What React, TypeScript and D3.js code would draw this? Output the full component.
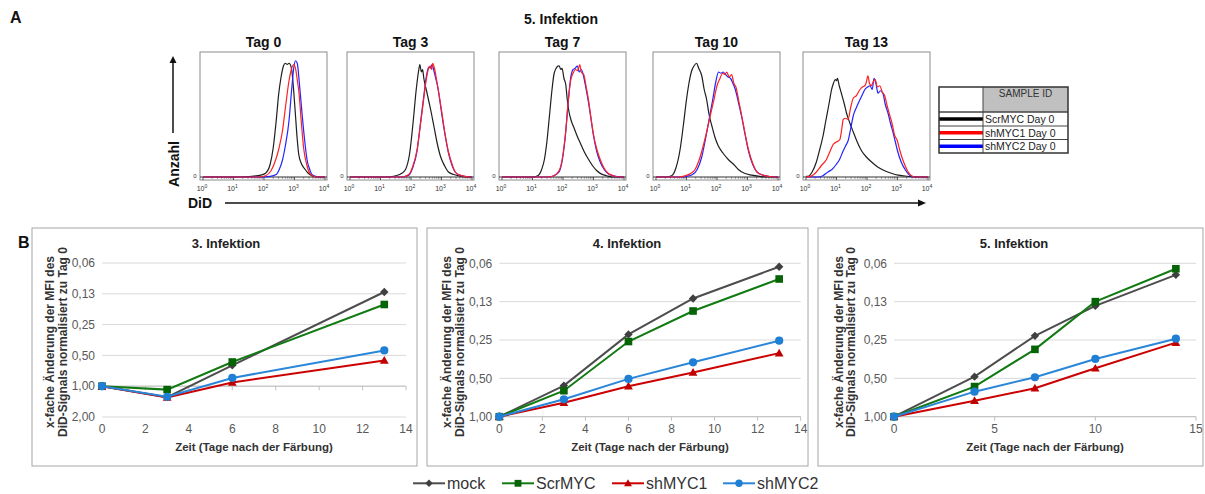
import React from "react";
import * as d3 from "d3";

type Pt = [number, number];

// ---------- Panel A: DiD histograms (x = log10 fluorescence, y = % of max count) ----------
const histDays = ["Tag 0", "Tag 3", "Tag 7", "Tag 10", "Tag 13"];
const histSampleLabels = ["ScrMYC Day 0", "shMYC1 Day 0", "shMYC2 Day 0"];
const decadeTicks = [0, 1, 2, 3, 4];

const histScrMYC: Pt[][] = [
  [[0,0],[1.2,0],[1.6,0.5],[1.9,1.5],[2.05,3],[2.2,10],[2.3,23],[2.4,45],[2.48,66],[2.56,80],[2.64,89],[2.7,91],[2.76,90],[2.82,91],[2.9,87],[2.97,70],[3.03,50],[3.09,30],[3.14,18],[3.22,11],[3.35,6],[3.45,3],[3.57,1],[3.7,0],[4,0]],
  [[0,0],[1.2,0],[1.5,1],[1.7,3],[1.82,6],[1.95,18],[2.09,49],[2.15,65],[2.2,76],[2.25,85],[2.29,90],[2.34,84],[2.38,86],[2.42,79],[2.5,70],[2.58,61],[2.66,52],[2.74,42],[2.85,28],[2.96,17],[3.1,9],[3.23,4],[3.4,2],[3.55,1],[3.8,0],[4,0]],
  [[0,0],[1.0,0],[1.17,1],[1.3,6],[1.39,14],[1.48,30],[1.56,50],[1.64,70],[1.71,83],[1.8,88],[1.87,89],[1.93,86],[1.97,87],[2.03,79],[2.09,74],[2.14,62],[2.19,53],[2.27,45],[2.35,40],[2.46,33],[2.57,27],[2.7,20],[2.84,14],[2.97,9],[3.11,5],[3.25,2.5],[3.43,1],[3.6,0],[4,0]],
  [[0,0],[0.3,0],[0.51,1],[0.65,7],[0.79,22],[0.9,42],[1.0,62],[1.08,75],[1.17,85],[1.25,89],[1.33,91],[1.4,87],[1.5,81],[1.58,70],[1.66,62],[1.74,50],[1.83,41],[1.93,32],[2.04,25],[2.2,19],[2.37,14],[2.55,10],[2.7,6],[2.9,3],[3.14,1.5],[3.4,0.5],[3.6,0],[4,0]],
  [[0,0.5],[0.07,0.5],[0.2,4],[0.34,12],[0.45,22],[0.56,33],[0.65,45],[0.72,54],[0.78,62],[0.83,69],[0.9,75],[0.96,78],[1.0,77],[1.03,79],[1.09,73],[1.16,67],[1.25,59],[1.33,51],[1.44,43],[1.55,36],[1.68,28],[1.82,21],[1.98,16],[2.15,12],[2.35,8],[2.58,5],[2.8,3],[3.02,1.5],[3.25,0.8],[3.46,0.3],[3.7,0],[4,0]],
];

const histShMYC1: Pt[][] = [
  [[0,0],[1.8,0],[2.05,1],[2.23,5],[2.4,15],[2.5,24],[2.6,36],[2.7,55],[2.82,77],[2.92,88],[2.98,90],[3.04,86],[3.1,76],[3.14,69],[3.22,45],[3.3,23],[3.4,10],[3.5,3],[3.6,1],[3.75,0],[4,0]],
  [[0,0],[1.7,0],[1.93,2],[2.05,8],[2.2,22],[2.3,40],[2.42,63],[2.5,78],[2.58,87],[2.64,89],[2.68,86],[2.71,91],[2.76,88],[2.85,76],[2.92,66],[3.01,52],[3.1,37],[3.23,20],[3.35,10],[3.45,4],[3.6,1.5],[3.77,0.5],[3.9,0],[4,0]],
  [[0,0],[1.5,0],[1.7,1],[1.87,5],[1.98,15],[2.09,37],[2.17,60],[2.25,77],[2.33,83],[2.41,86],[2.48,85],[2.55,90],[2.6,84],[2.68,82],[2.76,72],[2.84,61],[2.92,47],[3.0,34],[3.1,23],[3.22,14],[3.35,7],[3.48,3],[3.65,1],[3.86,0],[4,0]],
  [[0,0],[0.8,0],[0.95,1],[1.15,3],[1.28,6],[1.42,14],[1.56,26],[1.67,37],[1.78,49],[1.9,62],[2.0,73],[2.1,79],[2.18,83],[2.25,82],[2.32,84],[2.4,80],[2.48,82],[2.55,75],[2.62,72],[2.72,60],[2.81,49],[2.92,35],[3.03,22],[3.17,11],[3.31,4],[3.5,1.5],[3.69,0.5],[3.85,0],[4,0]],
  [[0,0],[0.15,0.5],[0.34,4],[0.5,9],[0.67,14],[0.78,20],[0.89,26],[1.0,28],[1.11,30],[1.17,38],[1.22,46],[1.3,47],[1.38,46],[1.46,55],[1.55,63],[1.65,65],[1.77,70],[1.85,72],[1.93,73],[1.98,76],[2.03,81],[2.08,75],[2.14,73],[2.2,76],[2.27,78],[2.34,72],[2.42,73],[2.5,68],[2.58,65],[2.66,57],[2.75,49],[2.83,42],[2.91,33],[2.98,30],[3.08,21],[3.17,14],[3.25,9],[3.35,4],[3.46,1],[3.6,0],[4,0]],
];

const histShMYC2: Pt[][] = [
  [[0,0],[1.9,0],[2.2,0.5],[2.4,2],[2.5,6],[2.6,13],[2.7,25],[2.82,45],[2.9,68],[2.98,88],[3.03,93],[3.09,91],[3.16,75],[3.25,50],[3.33,30],[3.41,14],[3.5,6],[3.57,2],[3.7,0.5],[3.85,0],[4,0]],
  [[0,0],[1.7,0],[1.93,1.5],[2.05,7],[2.2,21],[2.3,41],[2.42,65],[2.5,80],[2.58,88],[2.64,87],[2.69,90],[2.74,86],[2.8,80],[2.87,73],[2.94,62],[3.01,50],[3.1,36],[3.23,19],[3.35,9],[3.45,4],[3.6,1.5],[3.77,0.5],[3.9,0],[4,0]],
  [[0,0],[1.5,0],[1.7,1],[1.87,4],[1.98,14],[2.09,36],[2.17,60],[2.25,79],[2.33,86],[2.4,87],[2.47,89],[2.53,84],[2.6,86],[2.68,80],[2.76,70],[2.84,59],[2.92,46],[3.0,33],[3.1,21],[3.22,12],[3.35,6],[3.48,2.5],[3.65,1],[3.86,0],[4,0]],
  [[0,0],[0.8,0],[1.0,0.5],[1.2,2],[1.35,6],[1.5,16],[1.62,30],[1.74,46],[1.86,62],[1.96,76],[2.05,84],[2.13,83],[2.2,84],[2.28,82],[2.36,80],[2.44,79],[2.52,75],[2.6,70],[2.7,60],[2.81,48],[2.92,34],[3.03,21],[3.17,10],[3.31,4],[3.5,1.5],[3.69,0.5],[3.85,0],[4,0]],
  [[0,0],[0.4,0],[0.55,1],[0.72,4],[0.85,6],[0.99,10],[1.1,14],[1.22,21],[1.3,25],[1.38,29],[1.46,38],[1.55,49],[1.66,56],[1.77,62],[1.85,66],[1.93,70],[2.02,72],[2.1,73],[2.17,70],[2.23,79],[2.3,74],[2.36,67],[2.44,69],[2.52,67],[2.6,58],[2.69,51],[2.77,43],[2.85,36],[2.93,28],[3.0,21],[3.12,12],[3.25,6],[3.35,2.5],[3.46,0.5],[3.6,0],[4,0]],
];

// ---------- Panel B: fold change of DiD MFI, normalised to day 0 ----------
const seriesNames = ["mock", "ScrMYC", "shMYC1", "shMYC2"];
const infTitles = ["3. Infektion", "4. Infektion", "5. Infektion"];

const daysInf3 = [0, 3, 6, 13];
const mockInf3 = [1, 1.28, 0.625, 0.12];
const scrInf3 = [1, 1.08, 0.58, 0.159];
const sh1Inf3 = [1, 1.29, 0.92, 0.56];
const sh2Inf3 = [1, 1.27, 0.83, 0.447];

const daysInf4 = [0, 3, 6, 9, 13];
const mockInf4 = [1, 0.57, 0.226, 0.118, 0.0665];
const scrInf4 = [1, 0.625, 0.257, 0.148, 0.083];
const sh1Inf4 = [1, 0.776, 0.577, 0.45, 0.317];
const sh2Inf4 = [1, 0.73, 0.505, 0.374, 0.253];

const daysInf5 = [0, 4, 7, 10, 14];
const mockInf5 = [1, 0.485, 0.232, 0.135, 0.077];
const scrInf5 = [1, 0.58, 0.296, 0.125, 0.069];
const sh1Inf5 = [1, 0.749, 0.598, 0.417, 0.262];
const sh2Inf5 = [1, 0.636, 0.49, 0.352, 0.244];

const yTicksInf3 = [0.0625, 0.125, 0.25, 0.5, 1, 2];
const yTicksInf45 = [0.0625, 0.125, 0.25, 0.5, 1];
const xTicks14 = [0, 2, 4, 6, 8, 10, 12, 14];
const xTicks15 = [0, 5, 10, 15];

const FONT = "'Liberation Sans', Arial, Helvetica, sans-serif";
const fmtDe = d3.formatLocale({ decimal: ",", thousands: ".", grouping: [3], currency: ["", "€"] }).format(".2f");

const seriesStyle = [
  { line: "#4d4d4d", fill: "#404040", shape: "diamond" },
  { line: "#117a11", fill: "#066306", shape: "square" },
  { line: "#cc0000", fill: "#c00000", shape: "triangle" },
  { line: "#2a86d8", fill: "#1f7fd4", shape: "circle" },
];

function Marker({ shape, x, y, color, s = 1 }: { shape: string; x: number; y: number; color: string; s?: number }) {
  if (shape === "diamond") {
    const r = 4.2 * s;
    return <path d={`M${x},${y - r}L${x + r},${y}L${x},${y + r}L${x - r},${y}Z`} fill={color} />;
  }
  if (shape === "square") {
    const r = 3.8 * s;
    return <rect x={x - r} y={y - r} width={2 * r} height={2 * r} fill={color} />;
  }
  if (shape === "triangle") {
    const r = 4.4 * s;
    return <path d={`M${x},${y - r}L${x + r},${y + r * 0.75}L${x - r},${y + r * 0.75}Z`} fill={color} />;
  }
  return <circle cx={x} cy={y} r={4.1 * s} fill={color} />;
}

function Histogram({ left, day, idx }: { left: number; day: string; idx: number }) {
  const width = 127;
  const top = 52;
  const bottom = 180;
  const base = 177;
  const xs = d3.scaleLinear().domain([0, 4]).range([left + 3, left + width - 2]);
  const ys = d3.scaleLinear().domain([0, 100]).range([base, top]);
  const line = d3.line<Pt>().x((d) => xs(d[0])).y((d) => ys(d[1])).curve(d3.curveMonotoneX);
  const minor: number[] = [];
  for (let k = 0; k < 4; k++) for (let m = 2; m <= 9; m++) minor.push(k + Math.log10(m));
  return (
    <g>
      <text x={left + width / 2} y={47} textAnchor="middle" fontSize={14} fontWeight="bold" fill="#111">{day}</text>
      <rect x={left} y={top} width={width} height={bottom - top} fill="#fff" stroke="#8c8c8c" strokeWidth={1} />
      <line x1={left} x2={left + width} y1={base} y2={base} stroke="#333" strokeWidth={1.1} />
      {minor.map((m, i) => (
        <line key={i} x1={xs(m)} x2={xs(m)} y1={base} y2={base + 1.8} stroke="#444" strokeWidth={0.6} />
      ))}
      {decadeTicks.map((t) => (
        <line key={"M" + t} x1={xs(t)} x2={xs(t)} y1={base} y2={base + 3} stroke="#333" strokeWidth={0.8} />
      ))}
      {decadeTicks.map((t) => (
        <text key={"L" + t} x={xs(t) - 1} y={191} textAnchor="middle" fontSize={7} fill="#333">
          10<tspan dy={-3} fontSize={5}>{t}</tspan>
        </text>
      ))}
      <text x={left - 5} y={base + 1} textAnchor="middle" fontSize={6} fill="#333">0</text>
      <path d={line(histScrMYC[idx]) || ""} fill="none" stroke="#1e1e1e" strokeWidth={1.2} />
      <path d={line(histShMYC2[idx]) || ""} fill="none" stroke="#2323ff" strokeWidth={1.2} />
      <path d={line(histShMYC1[idx]) || ""} fill="none" stroke="#ff2020" strokeWidth={1.2} />
    </g>
  );
}

function SampleLegend() {
  const x0 = 939, x1 = 983, x2 = 1068;
  const y0 = 87, yh = 112;
  const rowEdges = [112, 126, 139.5, 153];
  const colors = ["#000", "#ff0000", "#0000ff"];
  return (
    <g>
      <rect x={x0} y={y0} width={x2 - x0} height={rowEdges[3] - y0} fill="#fff" />
      <rect x={x1} y={y0} width={x2 - x1} height={yh - y0} fill="#c0c0c0" />
      <text x={(x1 + x2) / 2} y={97} textAnchor="middle" fontSize={10} fill="#333">SAMPLE ID</text>
      {histSampleLabels.map((lab, i) => {
        const cy = (rowEdges[i] + rowEdges[i + 1]) / 2;
        return (
          <g key={lab}>
            <line x1={x0} x2={x1} y1={cy} y2={cy} stroke={colors[i]} strokeWidth={3.5} />
            <text x={x1 + 2} y={cy + 3.8} fontSize={10.5} fill="#222">{lab}</text>
          </g>
        );
      })}
      {rowEdges.slice(0, 3).map((y, i) => (
        <line key={i} x1={x0} x2={x2} y1={y} y2={y} stroke="#444" strokeWidth={i === 0 ? 1.6 : 1} />
      ))}
      <line x1={x1} x2={x1} y1={y0} y2={rowEdges[3]} stroke="#444" strokeWidth={1} />
      <rect x={x0} y={y0} width={x2 - x0} height={rowEdges[3] - y0} fill="none" stroke="#333" strokeWidth={1.5} />
    </g>
  );
}

type Frame = { box: number[]; plot: number[]; titleX: number; yTitleX: number };

const frames: Frame[] = [
  { box: [32, 228, 417, 466], plot: [102, 263, 406, 417], titleX: 226, yTitleX: 50 },
  { box: [427, 228, 808, 466], plot: [499.3, 263.3, 800.7, 416.7], titleX: 627, yTitleX: 447 },
  { box: [818, 228, 1203, 466], plot: [894, 263.3, 1196, 416.7], titleX: 1014, yTitleX: 838.5 },
];

const infData = [
  { days: daysInf3, values: [mockInf3, scrInf3, sh1Inf3, sh2Inf3], yTicks: yTicksInf3, xTicks: xTicks14 },
  { days: daysInf4, values: [mockInf4, scrInf4, sh1Inf4, sh2Inf4], yTicks: yTicksInf45, xTicks: xTicks14 },
  { days: daysInf5, values: [mockInf5, scrInf5, sh1Inf5, sh2Inf5], yTicks: yTicksInf45, xTicks: xTicks15 },
];

function FoldChart({ i }: { i: number }) {
  const f = frames[i];
  const d = infData[i];
  const [bx0, by0, bx1, by1] = f.box;
  const [px0, py0, px1, py1] = f.plot;
  const xs = d3.scaleLinear().domain(d3.extent(d.xTicks) as [number, number]).range([px0, px1]);
  const ys = d3.scaleLog().base(2).domain(d3.extent(d.yTicks) as [number, number]).range([py0, py1]);
  const line = d3.line<number>().x((_, k) => xs(d.days[k])).y((v) => ys(v));
  const axisY = ys(1);
  return (
    <g fontFamily={FONT}>
      <rect x={bx0} y={by0} width={bx1 - bx0} height={by1 - by0} fill="#fff" stroke="#a6a6a6" strokeWidth={1} />
      <text x={f.titleX} y={247.5} textAnchor="middle" fontSize={13} fontWeight="bold" fill="#222">{infTitles[i]}</text>
      {d.yTicks.map((t) => (
        <g key={t}>
          <line x1={px0} x2={px1} y1={ys(t)} y2={ys(t)} stroke="#d9d9d9" strokeWidth={1} />
          <text x={px0 - 7} y={ys(t)} dy="0.35em" textAnchor="end" fontSize={12} fill="#595959">{fmtDe(t)}</text>
        </g>
      ))}
      <line x1={px0} x2={px1} y1={axisY} y2={axisY} stroke="#bfbfbf" strokeWidth={1} />
      {d.xTicks.map((t) => (
        <g key={t}>
          <line x1={xs(t)} x2={xs(t)} y1={axisY} y2={axisY + 4} stroke="#bfbfbf" strokeWidth={1} />
          <text x={xs(t)} y={433} textAnchor="middle" fontSize={12} fill="#595959">{t}</text>
        </g>
      ))}
      <text x={(px0 + px1) / 2} y={451} textAnchor="middle" fontSize={11.5} fontWeight="bold" fill="#333">
        Zeit (Tage nach der Färbung)
      </text>
      <g transform={`translate(${f.yTitleX},342) rotate(-90)`}>
        <text x={0} y={0} dy="0.35em" textAnchor="middle" fontSize={12} fontWeight="bold" fill="#333">x-fache Änderung der MFI des</text>
        <text x={0} y={12.5} dy="0.35em" textAnchor="middle" fontSize={12} fontWeight="bold" fill="#333">DiD-Signals normalisiert zu Tag 0</text>
      </g>
      {d.values.map((vals, s) => (
        <g key={s}>
          <path d={line(vals) || ""} fill="none" stroke={seriesStyle[s].line} strokeWidth={2} />
          {vals.map((v, k) => (
            <Marker key={k} shape={seriesStyle[s].shape} x={xs(d.days[k])} y={ys(v)} color={seriesStyle[s].fill} />
          ))}
        </g>
      ))}
    </g>
  );
}

const legendX = [413, 502, 612, 723];

export default function App() {
  const histLefts = [200, 347, 499, 653, 803];
  return (
    <svg width={1205} height={494} style={{ position: "absolute", left: 0, top: 0 }} fontFamily={FONT}>
      <rect width={1205} height={494} fill="#fff" />
      <text x={10} y={23.3} fontSize={16} fontWeight="bold" fill="#111">A</text>
      <text x={561} y={24} textAnchor="middle" fontSize={14} fontWeight="bold" fill="#111">5. Infektion</text>
      {histDays.map((day, i) => (
        <Histogram key={day} left={histLefts[i]} day={day} idx={i} />
      ))}
      {/* axis arrows */}
      <line x1={173} x2={173} y1={133} y2={62} stroke="#111" strokeWidth={1.5} />
      <path d="M173,56 L169.5,63 L176.5,63 Z" fill="#111" />
      <g transform="translate(174,164) rotate(-90)">
        <text x={0} y={0} dy="0.35em" textAnchor="middle" fontSize={14} fontWeight="bold" fill="#111">Anzahl</text>
      </g>
      <text x={188} y={208} fontSize={14} fontWeight="bold" fill="#111">DiD</text>
      <line x1={225} x2={918} y1={203} y2={203} stroke="#111" strokeWidth={1.5} />
      <path d="M926,203 L918,199.5 L918,206.5 Z" fill="#111" />
      <SampleLegend />

      <text x={18} y={248} fontSize={16} fontWeight="bold" fill="#111">B</text>
      {frames.map((_, i) => (
        <FoldChart key={i} i={i} />
      ))}
      {seriesNames.map((name, s) => (
        <g key={name}>
          <line x1={legendX[s]} x2={legendX[s] + 32} y1={483.3} y2={483.3} stroke={seriesStyle[s].line} strokeWidth={2} />
          <Marker shape={seriesStyle[s].shape} x={legendX[s] + 16} y={483.3} color={seriesStyle[s].fill} s={0.9} />
          <text x={legendX[s] + 34} y={488.5} fontSize={16} fill="#333">{name}</text>
        </g>
      ))}
    </svg>
  );
}
